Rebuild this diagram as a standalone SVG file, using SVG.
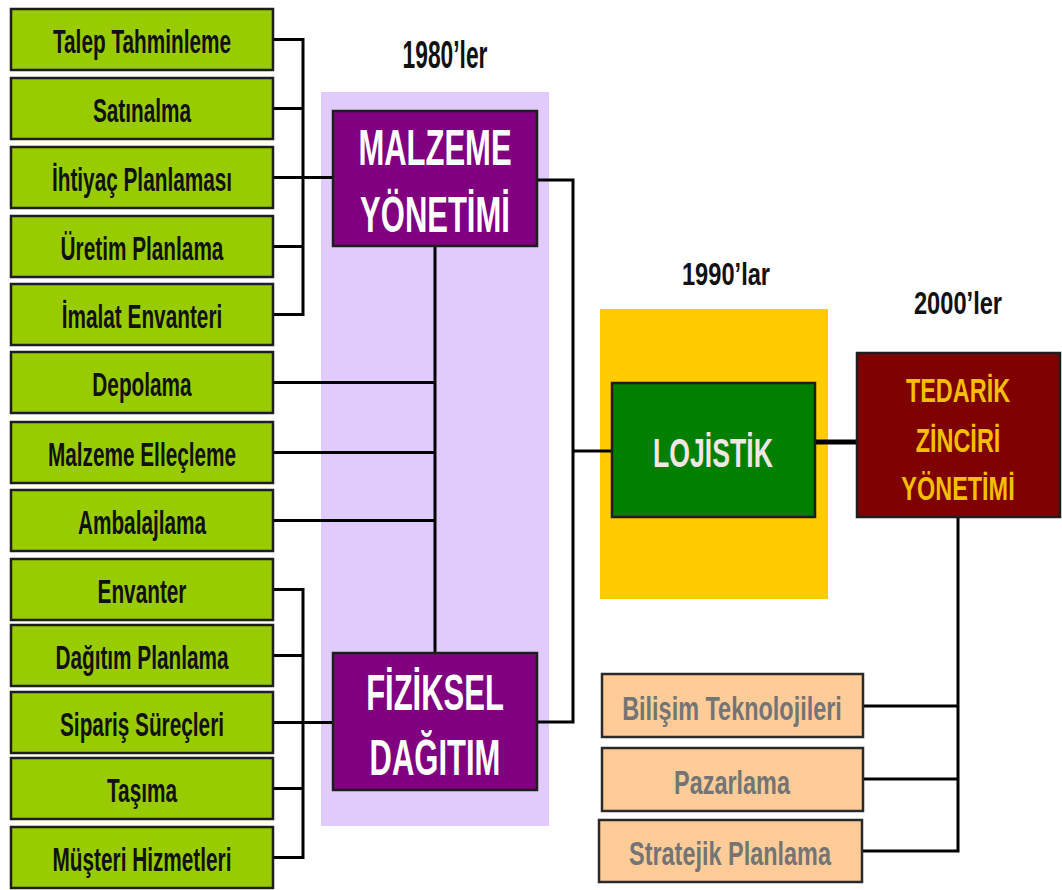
<svg xmlns="http://www.w3.org/2000/svg" width="1062" height="890" viewBox="0 0 1062 890">
<style>
text{font-family:"Liberation Sans",Arial,sans-serif;font-weight:bold;text-anchor:middle}
.g rect{fill:#99CC00;stroke:#1e1e1e;stroke-width:2.5}
.g text{font-size:33px;fill:#111}
.p rect{fill:#800080;stroke:#1e1e1e;stroke-width:2.5}
.p text{font-size:50px;fill:#fff}
.o rect{fill:#FFCC99;stroke:#2a2a2a;stroke-width:2.5}
.o text{font-size:34px;fill:#747474}
.yr{font-size:38px;fill:#111}
.c{fill:none;stroke:#000;stroke-width:3}
</style>
<rect x="321" y="92" width="228" height="734" fill="#E1CBFD"/>
<rect x="600" y="309" width="228" height="290" fill="#FFCC00"/>
<g id="year1980"><text class="yr" transform="translate(445,68) scale(0.6,1)">1980’ler</text></g>
<g id="year1990"><text class="yr" style="font-size:32px" transform="translate(726,285) scale(0.74,1)">1990’lar</text></g>
<g id="year2000"><text class="yr" style="font-size:32px" transform="translate(958,314) scale(0.74,1)">2000’ler</text></g>
<g id="connectors">
<path class="c" d="M273 39.5H303V314.5H273M273 108.5H303M273 246.5H303M273 177.5H333"/>
<path class="c" d="M273 382.5H435M273 452.5H435M273 520.5H435M435 246V653"/>
<path class="c" d="M273 589.5H303V857.5H273M273 655.5H303M273 788.5H303M273 722.5H333"/>
<path class="c" d="M537 180H573V722H537M573 451H612"/>
<path class="c" style="stroke-width:5" d="M815 442H857"/>
<path class="c" d="M958 517V851H863M863 706H958M863 779H958"/>
</g>
<g id="n-talep" class="g"><rect x="11" y="9" width="262" height="61"/><text transform="translate(142,52.5) scale(0.63,1)">Talep Tahminleme</text></g>
<g id="n-satinalma" class="g"><rect x="11" y="78" width="262" height="61"/><text transform="translate(142,121.5) scale(0.63,1)">Satınalma</text></g>
<g id="n-ihtiyac" class="g"><rect x="11" y="147" width="262" height="61"/><text transform="translate(142,190.5) scale(0.63,1)">İhtiyaç Planlaması</text></g>
<g id="n-uretim" class="g"><rect x="11" y="216" width="262" height="61"/><text transform="translate(142,259.5) scale(0.63,1)">Üretim Planlama</text></g>
<g id="n-imalat" class="g"><rect x="11" y="284" width="262" height="61"/><text transform="translate(142,327.5) scale(0.63,1)">İmalat Envanteri</text></g>
<g id="n-depolama" class="g"><rect x="11" y="352" width="262" height="61"/><text transform="translate(142,395.5) scale(0.63,1)">Depolama</text></g>
<g id="n-ellecleme" class="g"><rect x="11" y="422" width="262" height="61"/><text transform="translate(142,465.5) scale(0.63,1)">Malzeme Elleçleme</text></g>
<g id="n-ambalajlama" class="g"><rect x="11" y="490" width="262" height="61"/><text transform="translate(142,533.5) scale(0.63,1)">Ambalajlama</text></g>
<g id="n-envanter" class="g"><rect x="11" y="559" width="262" height="61"/><text transform="translate(142,602.5) scale(0.63,1)">Envanter</text></g>
<g id="n-dagitim" class="g"><rect x="11" y="625" width="262" height="61"/><text transform="translate(142,668.5) scale(0.63,1)">Dağıtım Planlama</text></g>
<g id="n-siparis" class="g"><rect x="11" y="692" width="262" height="61"/><text transform="translate(142,735.5) scale(0.63,1)">Sipariş Süreçleri</text></g>
<g id="n-tasima" class="g"><rect x="11" y="758" width="262" height="61"/><text transform="translate(142,801.5) scale(0.63,1)">Taşıma</text></g>
<g id="n-musteri" class="g"><rect x="11" y="827" width="262" height="61"/><text transform="translate(142,870.5) scale(0.63,1)">Müşteri Hizmetleri</text></g>
<g id="n-malzeme" class="p"><rect x="333" y="111" width="204" height="135"/><text transform="translate(435,165) scale(0.62,1)">MALZEME</text><text transform="translate(435,232) scale(0.62,1)">YÖNETİMİ</text></g>
<g id="n-fiziksel" class="p"><rect x="333" y="653" width="204" height="137"/><text transform="translate(435,710) scale(0.62,1)">FİZİKSEL</text><text transform="translate(435,775) scale(0.62,1)">DAĞITIM</text></g>
<g id="n-lojistik"><rect x="612" y="383" width="203" height="134" fill="#007F00" stroke="#1e1e1e" stroke-width="2.5"/><text style="font-size:41px;fill:#F3E6E6" transform="translate(713,467) scale(0.65,1)">LOJİSTİK</text></g>
<g id="n-tedarik"><rect x="857" y="353" width="203" height="164" fill="#7F0000" stroke="#1e1e1e" stroke-width="2.5"/><g style="font-size:34px;fill:#F5BE00"><text transform="translate(958,402) scale(0.69,1)">TEDARİK</text><text transform="translate(958,452) scale(0.69,1)">ZİNCİRİ</text><text transform="translate(958,500) scale(0.69,1)">YÖNETİMİ</text></g></g>
<g id="n-bilisim" class="o"><rect x="602" y="674" width="261" height="63"/><text transform="translate(732,720) scale(0.69,1)">Bilişim Teknolojileri</text></g>
<g id="n-pazarlama" class="o"><rect x="602" y="748" width="261" height="63"/><text transform="translate(732,794) scale(0.69,1)">Pazarlama</text></g>
<g id="n-stratejik" class="o"><rect x="599" y="820" width="263" height="62"/><text transform="translate(730,865) scale(0.69,1)">Stratejik Planlama</text></g>
</svg>
